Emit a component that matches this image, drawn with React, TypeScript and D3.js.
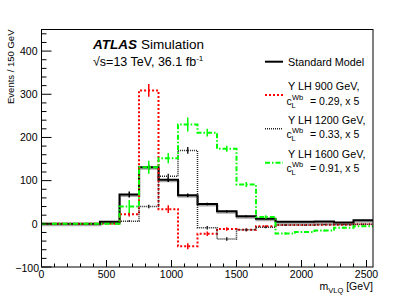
import React from 'react';
import * as d3 from 'd3';

// bin low edges, 150 GeV bins
const binLow = [0, 150, 300, 450, 600, 750, 900, 1050, 1200, 1350, 1500, 1650, 1800, 1950, 2100, 2250, 2400];
const binWidth = 150;

const smValues = [0, 0, 0, 5, 68, 131, 102, 66, 46, 29, 17.5, 11.5, 5, 5, 5.5, 3, 8.5];
const smErr = [0, 0, 0, 1.5, 7, 6, 5, 4, 3, 2.5, 2, 1.5, 1, 1, 1, 1, 1];

const y900Values = [0, 0, 0, 0, 22, 309, 34, -52, -23, -12, -14, -5.5, -3, -3, -2, -2, -1];
const y900Err = [0, 0, 0, 0, 5, 15, 9, 7, 5, 4, 3, 2, 1.5, 1, 1, 1, 1];

const y1200Values = [0, 0, 0, 2, 6, 40, 110, 170, -9, -35, -14, -8, -3, -3, -2, -2, -1];
const y1200Err = [0, 0, 0, 0.5, 2, 4, 6, 8, 4, 4, 3, 2, 1.5, 1, 1, 1, 1];

const y1600Values = [0, 0, 0, 0, 40, 131, 152, 230, 211, 174, 91, 16, -22.5, -19, -15.5, -9, -5.5];
const y1600Err = [0, 0, 0, 0.5, 15, 15, 12, 16, 9, 7, 6, 4, 3, 2, 2, 2, 1.5];

const xTicks = [0, 500, 1000, 1500, 2000, 2500];
const yTicks = [-100, 0, 100, 200, 300, 400];

const W = 415;
const H = 298;
const left = 41.5, right = 373, top = 29.5, bottom = 267;
const font = '"Liberation Sans", Arial, Helvetica, sans-serif';

const x = d3.scaleLinear().domain([0, 2550]).range([left, right]);
const y = d3.scaleLinear().domain([-100, 450]).range([bottom, top]);

const stepLine = d3.line<[number, number]>()
  .x(d => x(d[0]))
  .y(d => y(d[1]))
  .curve(d3.curveStepAfter);

function histPath(vals: number[]) {
  const pts: [number, number][] = vals.map((v, i) => [binLow[i], v]);
  pts.push([binLow[binLow.length - 1] + binWidth, vals[vals.length - 1]]);
  return stepLine(pts);
}

const series = [
  { name: 'sm', vals: smValues, err: smErr, color: '#000', width: 2, dash: undefined },
  { name: 'y900', vals: y900Values, err: y900Err, color: '#ff0000', width: 2, dash: '2 2' },
  { name: 'y1200', vals: y1200Values, err: y1200Err, color: '#222', width: 1.5, dash: '1 1' },
  { name: 'y1600', vals: y1600Values, err: y1600Err, color: '#00ff00', width: 2, dash: '5 2 1.5 2' },
];

function ErrorBars({ s }) {
  return <g>
    {s.vals.map((v, i) => s.err[i] > 0 ? (
      <line key={i}
        x1={x(binLow[i] + binWidth / 2)} x2={x(binLow[i] + binWidth / 2)}
        y1={y(v - s.err[i])} y2={y(v + s.err[i])}
        stroke={s.color} strokeWidth={1.5} />
    ) : null)}
  </g>;
}

function CLabel({ lx, ly, value }) {
  return <g fontFamily={font} fontSize={10.5}>
    <text x={lx} y={ly}>c</text>
    <text x={lx + 5.5} y={ly - 5} fontSize={7.5}>Wb</text>
    <text x={lx + 5} y={ly + 3} fontSize={7.5}>L</text>
    <text x={lx + 23.5} y={ly}>= {value}, x 5</text>
  </g>;
}

export default function App() {
  const xMinor = d3.range(0, 2551, 100);
  const yMinor = d3.range(-100, 451, 20);
  const legendX1 = 265, legendX2 = 283, textX = 288;

  return (
    <svg width={W} height={H} style={{ position: 'absolute', left: 0, top: 0, background: '#fff' }}>
      <rect x={0} y={0} width={W} height={H} fill="#fff" />
      <clipPath id="plot">
        <rect x={left} y={top} width={right - left} height={bottom - top} />
      </clipPath>

      <g clipPath="url(#plot)">
        {/* grey shadow of the SM line */}
        <path d={histPath(smValues)} fill="none" stroke="#aaa" strokeWidth={2} transform="translate(0.5,1.5)" />
        <path d={histPath(smValues)} fill="none" stroke="#000" strokeWidth={2} />
        <ErrorBars s={series[0]} />
        {series.slice(1).map(s => (
          <g key={s.name}>
            <path d={histPath(s.vals)} fill="none" stroke={s.color} strokeWidth={s.width} strokeDasharray={s.dash} />
            <ErrorBars s={s} />
          </g>
        ))}
      </g>

      {/* frame */}
      <rect x={left} y={top} width={right - left} height={bottom - top} fill="none" stroke="#000" strokeWidth={1} />

      {/* x ticks */}
      {xMinor.map(t => (
        <line key={'xt' + t} x1={x(t)} x2={x(t)} y1={bottom} y2={bottom - (t % 500 === 0 ? 7 : 3.5)} stroke="#000" strokeWidth={1} />
      ))}
      {xTicks.map(t => (
        <text key={'xl' + t} x={x(t)} y={278} textAnchor="middle" fontFamily={font} fontSize={10.5}>{t}</text>
      ))}

      {/* y ticks */}
      {yMinor.map(t => (
        <line key={'yt' + t} x1={left} x2={left + (t % 100 === 0 ? 10 : 5)} y1={y(t)} y2={y(t)} stroke="#000" strokeWidth={1} />
      ))}
      {yTicks.map(t => (
        <text key={'yl' + t} x={t === -100 ? 39 : 37.5} y={y(t) + (t === -100 ? 5 : 3.8)} textAnchor="end" fontFamily={font} fontSize={10.5}>
          {t < 0 ? '\u2212' + Math.abs(t) : t}
        </text>
      ))}

      {/* axis titles */}
      <text transform={`translate(14,${top}) rotate(-90)`} textAnchor="end" fontFamily={font} fontSize={9.5}>Events / 150 GeV</text>
      <text x={right} y={290} textAnchor="end" fontFamily={font} fontSize={10.5}>
        m<tspan fontSize={7.5} dy={2.5}>VLQ</tspan><tspan dy={-2.5}> [GeV]</tspan>
      </text>

      {/* ATLAS label */}
      <text x={93} y={49} fontFamily={font} fontSize={13.5}>
        <tspan fontWeight="bold" fontStyle="italic">ATLAS</tspan>
        <tspan dx={4}>Simulation</tspan>
      </text>
      <text x={93} y={65.5} fontFamily={font} fontSize={12.5}>
        √s=13 TeV, 36.1 fb<tspan fontSize={8} dy={-5}>-1</tspan>
      </text>

      {/* legend */}
      <line x1={legendX1} x2={legendX2} y1={61.7} y2={61.7} stroke="#000" strokeWidth={2} />
      <text x={textX} y={65.5} fontFamily={font} fontSize={10.8}>Standard Model</text>

      <line x1={legendX1} x2={legendX2} y1={95} y2={95} stroke="#ff0000" strokeWidth={2} strokeDasharray="2 2" />
      <text x={textX} y={89.8} fontFamily={font} fontSize={10.8}>Y LH 900 GeV,</text>
      <CLabel lx={286.5} ly={104.5} value="0.29" />

      <line x1={legendX1} x2={legendX2} y1={128.7} y2={128.7} stroke="#222" strokeWidth={1.5} strokeDasharray="1 1" />
      <text x={textX} y={123.8} fontFamily={font} fontSize={10.8}>Y LH 1200 GeV,</text>
      <CLabel lx={286.5} ly={138} value="0.33" />

      <line x1={legendX1} x2={legendX2} y1={162.7} y2={162.7} stroke="#00ff00" strokeWidth={2} strokeDasharray="5 2 1.5 2" />
      <text x={textX} y={157.8} fontFamily={font} fontSize={10.8}>Y LH 1600 GeV,</text>
      <CLabel lx={286.5} ly={171.5} value="0.91" />
    </svg>
  );
}
